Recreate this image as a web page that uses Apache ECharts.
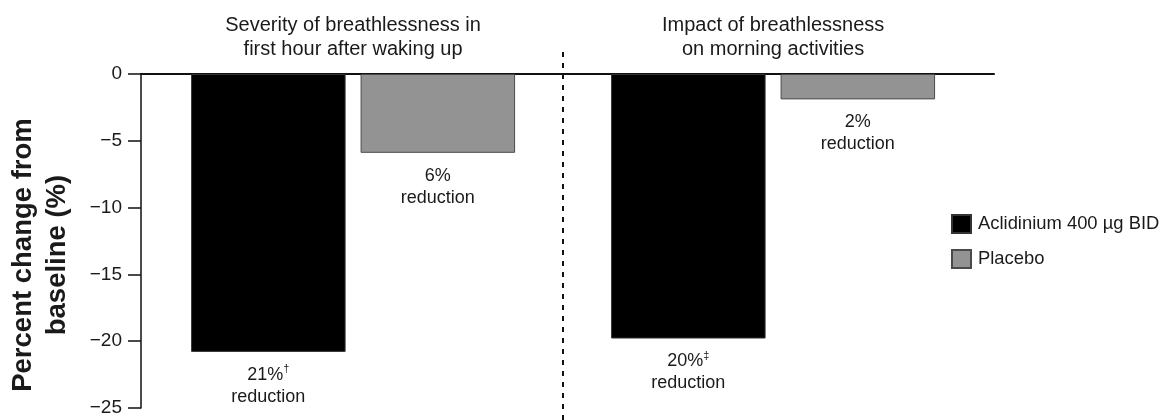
<!DOCTYPE html>
<html>
<head>
<meta charset="utf-8">
<script src="https://cdn.jsdelivr.net/npm/echarts@6/dist/echarts.min.js"></script>
<style>
html,body{margin:0;padding:0;background:#fff;}
#c{width:1161px;height:420px;}
</style>
</head>
<body>
<div id="c"></div>
<script>
// ---- data ----
const groupTitles = ['Severity of breathlessness in\nfirst hour after waking up', 'Impact of breathlessness\non morning activities'];
const groupX = [0, 1];
const seriesNames = ['Aclidinium 400 \u00b5g BID', 'Placebo'];
const aclidinium = [-20.8, -19.8];
const placebo = [-5.9, -1.9];
const aclidiniumPct = ['21%', '20%'];
const aclidiniumMark = ['\u2020', '\u2021'];
const placeboPct = ['6%', '2%'];
const yMin = -25, yMax = 0, yStep = 5;

const FONT = '"Liberation Sans", Arial, Helvetica, sans-serif';
const xMin = -0.505, xMax = 1.526;

function pts(vals) { return vals.map((v, i) => [groupX[i], v]); }

const labelRich = {
  n: { fontSize: 18, fontFamily: FONT, color: '#1a1a1a', lineHeight: 22 },
  s: { fontSize: 11, fontFamily: FONT, color: '#1a1a1a', lineHeight: 22, verticalAlign: 'top', padding: [0, 0, 6, 0] }
};

const chart = echarts.init(document.getElementById('c'), null, { renderer: 'canvas' });
chart.setOption({
  animation: false,
  backgroundColor: '#fff',
  textStyle: { fontFamily: FONT },
  legend: {
    data: seriesNames,
    orient: 'vertical',
    left: 951, top: 214,
    itemWidth: 19, itemHeight: 18, itemGap: 15,
    padding: 0,
    icon: 'rect',
    textStyle: { fontSize: 18.4, fontFamily: FONT, color: '#1a1a1a', padding: [0, 0, 0, 2] }
  },
  grid: [
    { left: 141, width: 853, top: 74, height: 334, containLabel: false, outerBoundsMode: 'none' },
    { left: 141, width: 853, top: 47, bottom: 0, containLabel: false, outerBoundsMode: 'none' }
  ],
  xAxis: [
    {
      type: 'value', gridIndex: 0, min: xMin, max: xMax, position: 'top',
      axisLine: { show: true, onZero: false, lineStyle: { color: '#111', width: 2 } },
      axisTick: { show: false },
      splitLine: { show: false },
      axisLabel: {
        show: true, customValues: groupX, margin: 13,
        formatter: v => groupTitles[groupX.indexOf(v)] || '',
        fontSize: 20, lineHeight: 24, color: '#1a1a1a', fontFamily: FONT
      }
    },
    { type: 'value', gridIndex: 1, min: xMin, max: xMax, show: false }
  ],
  yAxis: [
    {
      type: 'value', gridIndex: 0, min: yMin, max: yMax, interval: yStep,
      axisLine: { show: true, onZero: false, lineStyle: { color: '#111', width: 1.5 } },
      axisTick: { show: true, length: 13, lineStyle: { color: '#111', width: 1.5 } },
      splitLine: { show: false },
      axisLabel: {
        margin: 19, fontSize: 19, color: '#1a1a1a', fontFamily: FONT,
        formatter: v => v < 0 ? '\u2212' + Math.abs(v) : String(v)
      },
      name: 'Percent change from\nbaseline (%)',
      nameLocation: 'middle', nameRotate: 90, nameGap: 67,
      nameTextStyle: { fontSize: 27.5, fontWeight: 'bold', lineHeight: 34, color: '#1a1a1a', fontFamily: FONT, padding: [0, 28, 0, 0] }
    },
    { type: 'value', gridIndex: 1, min: 0, max: 1, show: false }
  ],
  series: [
    {
      name: seriesNames[0], type: 'bar', xAxisIndex: 0, yAxisIndex: 0,
      data: pts(aclidinium),
      barWidth: 154.5, barGap: '9.7%',
      itemStyle: { color: '#000', borderColor: '#333', borderWidth: 1 },
      label: {
        show: true, position: 'bottom', distance: 12,
        formatter: p => '{n|' + aclidiniumPct[p.dataIndex] + '}{s|' + aclidiniumMark[p.dataIndex] + '}\n{n|reduction}',
        rich: labelRich
      }
    },
    {
      name: seriesNames[1], type: 'bar', xAxisIndex: 0, yAxisIndex: 0,
      data: pts(placebo),
      barWidth: 154.5, barGap: '9.7%',
      itemStyle: { color: '#939393', borderColor: '#4a4a4a', borderWidth: 1 },
      label: {
        show: true, position: 'bottom', distance: 12,
        formatter: p => '{n|' + placeboPct[p.dataIndex] + '}\n{n|reduction}',
        rich: labelRich
      }
    },
    {
      type: 'line', xAxisIndex: 1, yAxisIndex: 1, silent: true,
      data: [[(groupX[0] + groupX[1]) / 2, 0]], symbol: 'none', showSymbol: false,
      lineStyle: { width: 0 },
      markLine: {
        silent: true, symbol: 'none', label: { show: false },
        lineStyle: { type: [5, 6], width: 2, color: '#111' },
        data: [{ xAxis: (groupX[0] + groupX[1]) / 2 }]
      }
    }
  ]
});
</script>
</body>
</html>
